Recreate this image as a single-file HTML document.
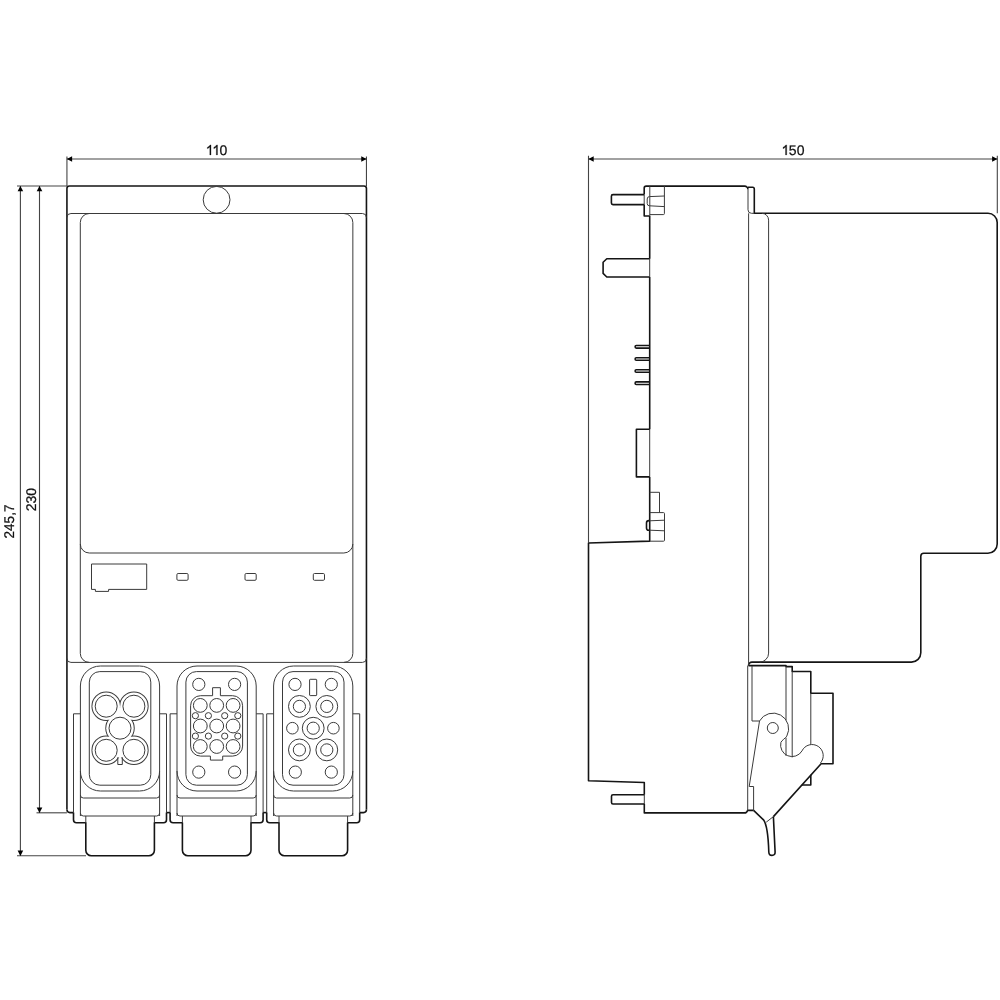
<!DOCTYPE html>
<html><head><meta charset="utf-8"><style>
html,body{margin:0;padding:0;background:#fff;width:1000px;height:1000px;overflow:hidden}
svg{display:block;will-change:transform}
.t{fill:#111;stroke:#111;stroke-width:0.25}
.o{fill:none;stroke:#151515;stroke-width:1.6;stroke-linejoin:round}
.d{fill:none;stroke:#3a3a3a;stroke-width:1}
.w{fill:#fff;stroke:none}
.d2{fill:none;stroke:#3a3a3a;stroke-width:2}
.dim{stroke:#444;stroke-width:1.1}
.ah{fill:#000;stroke:none}
text{font-family:"Liberation Sans",sans-serif;font-size:14px;fill:#111;stroke:#111;stroke-width:0.25;text-rendering:geometricPrecision}
</style></head><body>
<svg width="1000" height="1000" viewBox="0 0 1000 1000">
<line class="dim" x1="66.93" y1="156.5" x2="66.93" y2="186.0"/>
<line class="dim" x1="366.45" y1="156.5" x2="366.45" y2="186.0"/>
<line class="dim" x1="66.93" y1="158.95" x2="366.45" y2="158.95"/>
<path class="ah" d="M66.83000000000001,158.95 l5.3,-2.8 v5.6 z"/>
<path class="ah" d="M366.55,158.95 l-5.3,-2.8 v5.6 z"/>
<path class="t" d="M211.02,154.9 V144.88 H210.05 Q209.40,146.30 207.33,147.30 V148.75 Q208.80,148.10 209.79,147.05 V154.9 Z"/>
<path class="t" d="M217.52,154.9 V144.88 H216.55 Q215.90,146.30 213.83,147.30 V148.75 Q215.30,148.10 216.29,147.05 V154.9 Z"/>
<text x="223.45" y="154.9" text-anchor="middle">0</text>
<line class="dim" x1="17" y1="186.0" x2="66.93" y2="186.0"/>
<line class="dim" x1="36.5" y1="812.8" x2="66.93" y2="812.8"/>
<line class="dim" x1="17" y1="855.8" x2="86" y2="855.8"/>
<line class="dim" x1="20.4" y1="186.0" x2="20.4" y2="855.8"/>
<path class="ah" d="M20.4,185.9 l-2.8,5.3 h5.6 z"/>
<path class="ah" d="M20.4,855.9 l-2.8,-5.3 h5.6 z"/>
<line class="dim" x1="39.5" y1="186.0" x2="39.5" y2="812.8"/>
<path class="ah" d="M39.5,185.9 l-2.8,5.3 h5.6 z"/>
<path class="ah" d="M39.5,812.9 l-2.8,-5.3 h5.6 z"/>
<text transform="translate(13.95,521.5) rotate(-90) scale(0.965,1)" text-anchor="middle">245,7</text>
<text transform="translate(36.2,499.7) rotate(-90)" text-anchor="middle">230</text>
<path class="o" d="M66.93,809.6 V188.5 Q66.93,186.0 69.43,186.0 H363.95 Q366.45,186.0 366.45,188.5 V809.6"/>
<path class="d" d="M66.93,217.5 A4,4 0 0 1 70.93,213.5 H362.45 A4,4 0 0 1 366.45,217.5"/>
<circle class="d" cx="216.6" cy="199.8" r="13.4"/>
<path class="d" d="M80.3,653.4 V222.5 A9,9 0 0 1 89.3,213.5 H343.85 A9,9 0 0 1 352.85,222.5 V653.4"/>
<path class="d" d="M80.3,544 A9,9 0 0 0 89.3,553 H343.85 A9,9 0 0 0 352.85,544"/>
<path class="d" d="M66.93,658.4 A4,4 0 0 0 70.93,662.4 H362.45 A4,4 0 0 0 366.45,658.4"/>
<path class="d" d="M80.3,653.4 A9,9 0 0 0 89.3,662.4"/>
<path class="d" d="M352.85,653.4 A9,9 0 0 1 343.85,662.4"/>
<path class="d" d="M91.5,564 H146.7 V589.4 H108.6 V591.4 H95.4 V589.4 H91.5 Z"/>
<rect class="d" x="176.9" y="573.5" width="11.2" height="6.8" rx="1.2"/>
<rect class="d" x="245.0" y="573.5" width="11.2" height="6.8" rx="1.2"/>
<rect class="d" x="313.3" y="573.5" width="11.2" height="6.8" rx="1.2"/>
<path class="o" d="M66.93,809.6 A3,3 0 0 0 69.93,812.6 H73.5"/>
<path class="o" d="M366.45,809.6 A3,3 0 0 1 363.45,812.6 H359.7"/>
<path class="o" d="M166.5,812.6 H170.1"/>
<path class="o" d="M263.1,812.6 H266.7"/>
<path class="d" d="M73.5,812.6 V713.8 H80.4"/>
<path class="d" d="M166.5,812.6 V713.8 H159.6"/>
<path class="d" d="M80.4,816 V686 A20,20 0 0 1 100.4,666 H139.6 A20,20 0 0 1 159.6,686 V816"/>
<path class="d" d="M80.4,771 A20,20 0 0 0 100.4,791 H139.6 A20,20 0 0 0 159.6,771"/>
<path class="d" d="M80.4,795 A3,3 0 0 0 83.4,798 H156.6 A3,3 0 0 0 159.6,795"/>
<path class="d" d="M80.4,813 A3,3 0 0 0 83.4,816 H156.6 A3,3 0 0 0 159.6,813"/>
<rect class="d" x="89.3" y="671.6" width="61.500000000000014" height="113.60000000000002" rx="10.5"/>
<path class="o" d="M73.5,812.6 V819.8 A3,3 0 0 0 76.5,822.8 H85.8 V850.3 A5.5,5.5 0 0 0 91.3,855.8 H148.9 A5.5,5.5 0 0 0 154.4,850.3 V822.8 H163.5 A3,3 0 0 0 166.5,819.8 V812.6"/>
<line class="d" x1="85.8" y1="816" x2="85.8" y2="822.8"/>
<line class="d" x1="154.4" y1="816" x2="154.4" y2="822.8"/>
<circle class="d2" cx="106.2" cy="706.2" r="13.75"/>
<circle class="d2" cx="133.9" cy="706.2" r="13.75"/>
<circle class="d2" cx="120.0" cy="728.2" r="13.75"/>
<circle class="d2" cx="106.2" cy="750.3" r="13.75"/>
<circle class="d2" cx="133.9" cy="750.3" r="13.75"/>
<circle class="w" cx="106.2" cy="706.2" r="13.75"/>
<circle class="w" cx="133.9" cy="706.2" r="13.75"/>
<circle class="w" cx="120.0" cy="728.2" r="13.75"/>
<circle class="w" cx="106.2" cy="750.3" r="13.75"/>
<circle class="w" cx="133.9" cy="750.3" r="13.75"/>
<polygon class="w" points="120.05,706.7 109.1,720.0 120.0,724 130.9,720.0"/>
<polygon class="w" points="109.1,736.4 120.0,732 130.9,736.4 122.2,757.6 117.8,757.6"/>
<circle class="d" cx="106.2" cy="706.2" r="11.0"/>
<circle class="d" cx="133.9" cy="706.2" r="11.0"/>
<circle class="d" cx="120.0" cy="728.2" r="11.0"/>
<circle class="d" cx="106.2" cy="750.3" r="11.0"/>
<circle class="d" cx="133.9" cy="750.3" r="11.0"/>
<path class="d" d="M117.8,757.3 V764.5 H122.3 V757.3"/>
<path class="d" d="M170.1,812.6 V713.8 H177.0"/>
<path class="d" d="M263.09999999999997,812.6 V713.8 H256.2"/>
<path class="d" d="M177.0,816 V686 A20,20 0 0 1 197.0,666 H236.2 A20,20 0 0 1 256.2,686 V816"/>
<path class="d" d="M177.0,771 A20,20 0 0 0 197.0,791 H236.2 A20,20 0 0 0 256.2,771"/>
<path class="d" d="M177.0,795 A3,3 0 0 0 180.0,798 H253.2 A3,3 0 0 0 256.2,795"/>
<path class="d" d="M177.0,813 A3,3 0 0 0 180.0,816 H253.2 A3,3 0 0 0 256.2,813"/>
<rect class="d" x="185.9" y="671.6" width="61.5" height="113.60000000000002" rx="10.5"/>
<path class="o" d="M170.1,812.6 V819.8 A3,3 0 0 0 173.1,822.8 H182.39999999999998 V850.3 A5.5,5.5 0 0 0 187.89999999999998,855.8 H245.5 A5.5,5.5 0 0 0 251.0,850.3 V822.8 H260.09999999999997 A3,3 0 0 0 263.09999999999997,819.8 V812.6"/>
<line class="d" x1="182.39999999999998" y1="816" x2="182.39999999999998" y2="822.8"/>
<line class="d" x1="251.0" y1="816" x2="251.0" y2="822.8"/>
<circle class="d" cx="198.79999999999998" cy="684.4" r="6.1"/>
<circle class="d" cx="234.6" cy="684.4" r="6.1"/>
<circle class="d" cx="198.79999999999998" cy="772.1" r="6.1"/>
<circle class="d" cx="234.6" cy="772.1" r="6.1"/>
<path class="d" d="M200.6,695.7 H212.6 V687.7 H220.4 V695.7 H232.6 A10,10 0 0 1 242.6,705.7 V746.1 A10,10 0 0 1 232.6,756.1 H222.7 V760.1 H210.4 V756.1 H200.6 A10,10 0 0 1 190.6,746.1 V705.7 A10,10 0 0 1 200.6,695.7 Z"/>
<circle class="d" cx="200.29999999999998" cy="705.4" r="6.9"/>
<circle class="d" cx="216.7" cy="705.4" r="6.9"/>
<circle class="d" cx="233.1" cy="705.4" r="6.9"/>
<circle class="d" cx="200.29999999999998" cy="726.0" r="6.9"/>
<circle class="d" cx="216.7" cy="726.0" r="6.9"/>
<circle class="d" cx="233.1" cy="726.0" r="6.9"/>
<circle class="d" cx="200.29999999999998" cy="746.5" r="6.9"/>
<circle class="d" cx="216.7" cy="746.5" r="6.9"/>
<circle class="d" cx="233.1" cy="746.5" r="6.9"/>
<circle class="d" cx="195.4" cy="715.7" r="3.1"/>
<circle class="d" cx="208.4" cy="715.7" r="3.1"/>
<circle class="d" cx="224.7" cy="715.7" r="3.1"/>
<circle class="d" cx="237.79999999999998" cy="715.7" r="3.1"/>
<circle class="d" cx="195.4" cy="736.1" r="3.1"/>
<circle class="d" cx="208.4" cy="736.1" r="3.1"/>
<circle class="d" cx="224.7" cy="736.1" r="3.1"/>
<circle class="d" cx="237.79999999999998" cy="736.1" r="3.1"/>
<path class="d" d="M266.7,812.6 V713.8 H273.59999999999997"/>
<path class="d" d="M359.7,812.6 V713.8 H352.8"/>
<path class="d" d="M273.59999999999997,816 V686 A20,20 0 0 1 293.59999999999997,666 H332.8 A20,20 0 0 1 352.8,686 V816"/>
<path class="d" d="M273.59999999999997,771 A20,20 0 0 0 293.59999999999997,791 H332.8 A20,20 0 0 0 352.8,771"/>
<path class="d" d="M273.59999999999997,795 A3,3 0 0 0 276.59999999999997,798 H349.8 A3,3 0 0 0 352.8,795"/>
<path class="d" d="M273.59999999999997,813 A3,3 0 0 0 276.59999999999997,816 H349.8 A3,3 0 0 0 352.8,813"/>
<rect class="d" x="282.5" y="671.6" width="61.5" height="113.60000000000002" rx="10.5"/>
<path class="o" d="M266.7,812.6 V819.8 A3,3 0 0 0 269.7,822.8 H279.0 V850.3 A5.5,5.5 0 0 0 284.5,855.8 H342.09999999999997 A5.5,5.5 0 0 0 347.59999999999997,850.3 V822.8 H356.7 A3,3 0 0 0 359.7,819.8 V812.6"/>
<line class="d" x1="279.0" y1="816" x2="279.0" y2="822.8"/>
<line class="d" x1="347.59999999999997" y1="816" x2="347.59999999999997" y2="822.8"/>
<circle class="d" cx="295.0" cy="684.4" r="6.1"/>
<circle class="d" cx="331.3" cy="684.4" r="6.1"/>
<circle class="d" cx="295.3" cy="772.1" r="6.1"/>
<circle class="d" cx="331.3" cy="772.1" r="6.1"/>
<rect class="d" x="309.59999999999997" y="679.3" width="7.1" height="16.3" rx="0.6"/>
<circle class="d" cx="299.4" cy="706.4" r="10.9"/>
<circle class="d" cx="299.4" cy="706.4" r="6.1"/>
<circle class="d" cx="326.8" cy="706.4" r="10.9"/>
<circle class="d" cx="326.8" cy="706.4" r="6.1"/>
<circle class="d" cx="313.2" cy="728.2" r="10.9"/>
<circle class="d" cx="313.2" cy="728.2" r="6.1"/>
<circle class="d" cx="299.4" cy="749.9" r="10.9"/>
<circle class="d" cx="299.4" cy="749.9" r="6.1"/>
<circle class="d" cx="326.8" cy="749.9" r="10.9"/>
<circle class="d" cx="326.8" cy="749.9" r="6.1"/>
<circle class="d" cx="292.4" cy="728.2" r="5.8"/>
<circle class="d" cx="333.4" cy="728.2" r="5.8"/>
<line class="dim" x1="588.5" y1="155.8" x2="588.5" y2="542.6"/>
<line class="dim" x1="997.3" y1="155.8" x2="997.3" y2="213.3"/>
<line class="dim" x1="588.5" y1="158.95" x2="997.3" y2="158.95"/>
<path class="ah" d="M588.4,158.95 l5.3,-2.8 v5.6 z"/>
<path class="ah" d="M997.4,158.95 l-5.3,-2.8 v5.6 z"/>
<path class="t" d="M786.72,154.9 V144.88 H785.75 Q785.10,146.30 783.03,147.30 V148.75 Q784.50,148.10 785.49,147.05 V154.9 Z"/>
<text x="792.7" y="154.9" text-anchor="middle">5</text>
<text x="800.55" y="154.9" text-anchor="middle">0</text>
<path class="o" d="M649.7,216 H644.2 V204.6 M644.2,194.6 V188 Q644.2,186.1 646.2,186.1 H744.5 A3.5,3.5 0 0 1 748,189.6"/>
<line class="d" x1="644.2" y1="194.6" x2="644.2" y2="204.6"/>
<path class="o" d="M748,187.2 H752.6 Q754.3,187.2 754.3,189 V213.3 H988 A9.2,9.2 0 0 1 997.2,222.5 V544 A9.3,9.3 0 0 1 987.9,553.3 H923.8 A3,3 0 0 0 920.8,556.3 V652.8 A9.3,9.3 0 0 1 911.5,662.1 H752 A3.5,3.5 0 0 0 748.5,665.6"/>
<path class="d" d="M748,189.6 V209.8 A3.5,3.5 0 0 0 751.5,213.3 H754.3"/>
<line class="d" x1="748.6" y1="213.3" x2="748.6" y2="665.6"/>
<path class="d" d="M761.8,213.3 A6.8,6.8 0 0 1 768.6,220.1 V653.1 A9,9 0 0 1 759.6,662.1"/>
<path class="o" d="M644.2,194.6 H613 Q611.4,194.6 611.4,196.2 V203 Q611.4,204.6 613,204.6 H644.2"/>
<path class="o" d="M649.7,258.7 H606.8 L603.1,262.3 V273.4 L606.8,277 H649.7"/>
<line class="d" x1="649.8" y1="186.1" x2="649.8" y2="216"/>
<path class="d" d="M649.8,214.6 H663.4 Q664.4,214.6 664.4,213.6 V186.1"/>
<path class="d" d="M664.4,196 L649.5,196.6 Q647.2,196.6 647.2,199 V203.5 Q647.2,205.8 649.5,205.8 L664.4,206.6"/>
<path class="o" d="M649.7,216 V258.7 M649.7,277 V429.3 M649.7,476.9 V541.1 L588.5,543 V780.7 L644.3,782.5 V794.7 M644.3,804 V812.9 H744 A3.5,3.5 0 0 0 747.6,810.4 H753.6"/>
<path class="d" d="M649.7,258.7 V277 M649.7,429.3 V476.9 M644.3,794.7 V804"/>
<path class="o" d="M649.7,345.5 H636.3 Q635.1,345.5 635.1,346.8 Q635.1,348.1 636.3,348.1 H649.7"/>
<path class="o" d="M649.7,357.7 H636.3 Q635.1,357.7 635.1,359.0 Q635.1,360.3 636.3,360.3 H649.7"/>
<path class="o" d="M649.7,369.7 H636.3 Q635.1,369.7 635.1,371.0 Q635.1,372.3 636.3,372.3 H649.7"/>
<path class="o" d="M649.7,381.9 H636.3 Q635.1,381.9 635.1,383.2 Q635.1,384.5 636.3,384.5 H649.7"/>
<path class="o" d="M649.7,429.3 H636.4 V476.9 H649.7"/>
<path class="d" d="M649.7,492.3 H659.5 V512.6"/>
<path class="d" d="M649.7,512.6 H663.5 Q664.5,512.6 664.5,513.6 V540.2 Q664.5,541.2 663.5,541.2 H649.7"/>
<path class="o" d="M649.7,520.6 H648.8 Q646.5,520.6 646.5,523 V528 Q646.5,530.3 648.8,530.3 H649.7"/>
<path class="d" d="M649.7,520.8 L664.5,520.2 M649.7,530.2 L664.5,530.8"/>
<path class="o" d="M644.3,794.7 H613 Q611.5,794.7 611.5,796.2 V802.5 Q611.5,804 613,804 H644.3"/>
<path class="o" d="M748.5,665.6 H786 V666.6 H792.2 V671.5 H810.8 V693.2 H833 V763.8 H821.1 L773.4,816.6"/>
<line class="d" x1="786" y1="666.6" x2="786" y2="720.2"/>
<line class="d" x1="786" y1="737.6" x2="786" y2="755.9"/>
<line class="d" x1="792.2" y1="671.5" x2="792.2" y2="757.4"/>
<line class="d" x1="810.8" y1="693.2" x2="810.8" y2="744.7"/>
<path class="d" d="M752,666 V721 H759.5"/>
<line class="d" x1="747.7" y1="665.6" x2="747.7" y2="810.3"/>
<path class="d" d="M759.5,721 A15.6,15.6 0 0 1 786.8,736.1 C785.9,737.9 781.5,740.5 780.9,742.4 A11.5,11.5 0 0 0 802,750.9 A11.15,11.15 0 1 1 820.4,763.1"/>
<line class="d" x1="773.4" y1="816.6" x2="766.2" y2="822.2"/>
<circle class="d" cx="772.8" cy="728" r="5.5"/>
<path class="d" d="M759.5,721 L749.2,786.5 H753.6 V810.4"/>
<path class="o" d="M810.8,774.8 V785 H801.8"/>
<path class="o" d="M753.6,810.4 L763.5,819.8 Q768,826 768.8,852 Q768.9,855.4 772,855.4 Q775.2,855.4 775.1,852 L773.4,816.6"/>
</svg>
</body></html>
